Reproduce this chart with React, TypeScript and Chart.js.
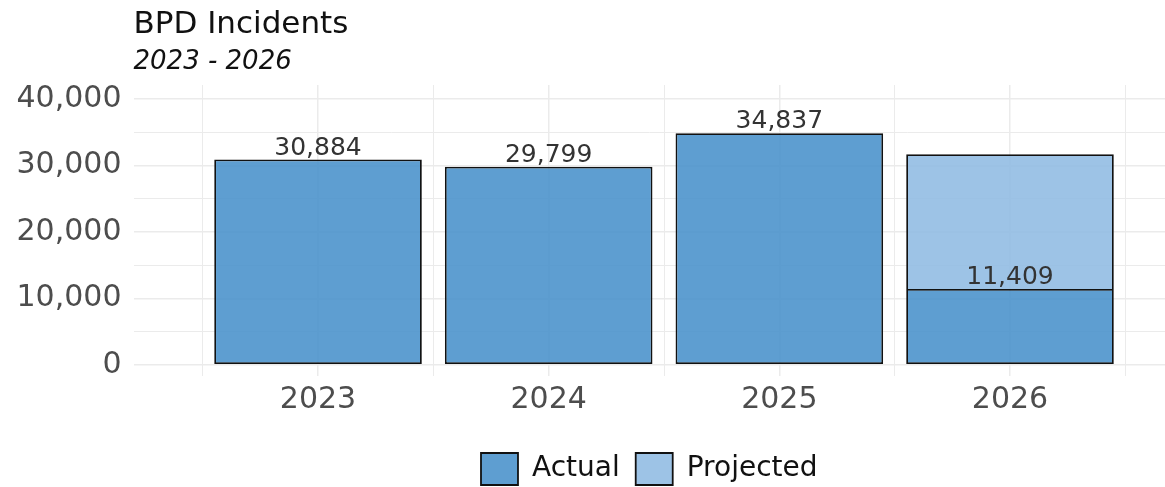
import React, { useEffect, useRef } from "react";
import { Chart, registerables } from "chart.js";

Chart.register(...registerables);

// ---- data ----
const years = [2023, 2024, 2025, 2026];
const actualValues = [30884, 29799, 34837, 11409];
const projectedYears = [2026];
const projectedRemainder = [20280]; // projected portion stacked above the 2026 actual
const yGridValues = [0, 5000, 10000, 15000, 20000, 25000, 30000, 35000, 40000];
const xGridValues = [2022.5, 2023, 2023.5, 2024, 2024.5, 2025, 2025.5, 2026, 2026.5];
const titleText = "BPD Incidents";
const subtitleText = "2023 - 2026";

const FONT = '"DejaVu Sans", sans-serif';

const valueLabels = {
  id: "valueLabels",
  afterDatasetsDraw(chart: any) {
    const meta = chart.getDatasetMeta(0);
    const ctx = chart.ctx;
    ctx.save();
    ctx.font = `25px ${FONT}`;
    ctx.fillStyle = "#333333";
    ctx.textAlign = "center";
    ctx.textBaseline = "alphabetic";
    meta.data.forEach((bar: any, i: number) => {
      ctx.fillText(actualValues[i].toLocaleString("en-US"), bar.x, bar.y - 5);
    });
    ctx.restore();
  },
};

export default function App() {
  const ref = useRef<HTMLCanvasElement | null>(null);

  useEffect(() => {
    if (!ref.current) return;
    const chart = new Chart(ref.current, {
      type: "bar",
      data: {
        datasets: [
          {
            label: "Actual",
            data: years.map((x, i) => ({ x, y: actualValues[i] })),
            backgroundColor: "rgba(76,147,204,0.9)",
            borderColor: "#111111",
            borderWidth: 1.8,
            borderSkipped: false,
            barPercentage: 0.9,
            categoryPercentage: 2,
          },
          {
            label: "Projected",
            data: projectedYears.map((x, i) => ({ x, y: projectedRemainder[i] })),
            backgroundColor: "rgba(146,188,227,0.9)",
            borderColor: "#111111",
            borderWidth: 1.8,
            borderSkipped: "start",
            barPercentage: 0.9,
            categoryPercentage: 2,
          },
        ],
      },
      options: {
        responsive: false,
        animation: false,
        devicePixelRatio: 1,
        layout: { padding: 0 },
        scales: {
          x: {
            type: "linear",
            stacked: true,
            min: 2022.2,
            max: 2026.672,
            offset: false,
            afterBuildTicks: (scale: any) => {
              scale.ticks = xGridValues.map((v) => ({ value: v }));
            },
            afterFit: (scale: any) => {
              scale.height = 61;
            },
            ticks: {
              autoSkip: false,
              maxRotation: 0,
              padding: 6,
              color: "#4d4d4d",
              font: { family: FONT, size: 30 },
              callback: (v: any) => (Number.isInteger(v) ? String(v) : ""),
            },
            grid: {
              offset: false,
              drawTicks: false,
              color: "#ebebeb",
              lineWidth: (c: any) => (c.tick && Number.isInteger(c.tick.value) ? 1.5 : 1),
            },
            border: { display: false },
          },
          y: {
            type: "linear",
            stacked: true,
            min: -1700,
            max: 42100,
            afterBuildTicks: (scale: any) => {
              scale.ticks = yGridValues.map((v) => ({ value: v }));
            },
            afterFit: (scale: any) => {
              scale.width = 133.5;
            },
            ticks: {
              autoSkip: false,
              padding: 12,
              color: "#4d4d4d",
              font: { family: FONT, size: 30 },
              callback: (v: any) => (v % 10000 === 0 ? Number(v).toLocaleString("en-US") : ""),
            },
            grid: {
              drawTicks: false,
              color: "#ebebeb",
              lineWidth: (c: any) => (c.tick && c.tick.value % 10000 === 0 ? 1.5 : 1),
            },
            border: { display: false },
          },
        },
        plugins: {
          title: {
            display: true,
            text: titleText,
            align: "start",
            fullSize: false,
            color: "#111111",
            font: { family: FONT, size: 31, weight: "normal", lineHeight: 1.2 },
            padding: { top: 6, bottom: 0 },
          },
          subtitle: {
            display: true,
            text: subtitleText,
            align: "start",
            fullSize: false,
            color: "#111111",
            font: { family: FONT, size: 26, style: "italic", weight: "normal", lineHeight: 1.2 },
            padding: { top: 3.5, bottom: 7.1 },
          },
          legend: {
            display: true,
            position: "bottom",
            fullSize: false,
            labels: {
              boxWidth: 37,
              boxHeight: 32,
              padding: 16,
              color: "#111111",
              font: { family: FONT, size: 28 },
            },
          },
          tooltip: { enabled: false },
        },
      },
      plugins: [valueLabels],
    } as any);
    return () => chart.destroy();
  }, []);

  return (
    <div
      style={{
        position: "absolute",
        left: 0,
        top: 0,
        width: 1165,
        height: 487,
        overflow: "hidden",
        background: "#ffffff",
      }}
    >
      <canvas ref={ref} width={1165} height={495} style={{ display: "block" }} />
    </div>
  );
}
